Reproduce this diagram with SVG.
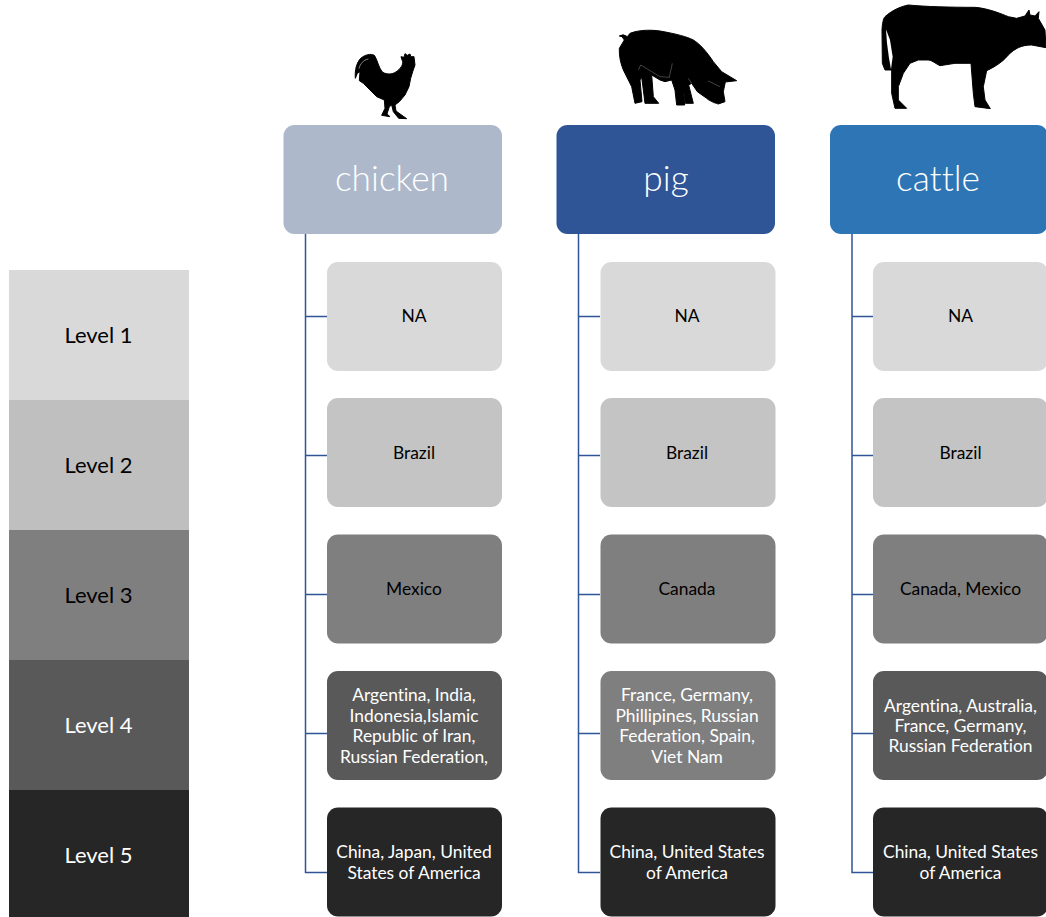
<svg xmlns="http://www.w3.org/2000/svg" width="1046" height="917" viewBox="0 0 1046 917">
<defs><filter id="soft" x="-5%" y="-5%" width="110%" height="110%"><feGaussianBlur stdDeviation="0.45"/></filter></defs>
<style>
text{font-family:"Lato","Carlito","Liberation Sans",sans-serif;text-anchor:middle;font-variant-ligatures:none}
.t{font-size:17.400px}
.l{font-size:22px}
.h{font-size:35.300px;fill:#fff;font-weight:300}
.w{fill:#fff}
.k{fill:#000}
.conn{fill:none;stroke:#2F5597;stroke-width:1.500}
.s{fill:#000;stroke:#000;stroke-width:3;stroke-linejoin:round}
.icon{filter:url(#soft)}
</style>
<rect width="1046" height="917" fill="#fff"/>
<g id="legend">
<g id="level1"><rect x="9" y="270" width="180" height="130" fill="#D9D9D9"/><text class="l k" x="98.500" y="343">Level 1</text></g>
<g id="level2"><rect x="9" y="400" width="180" height="130" fill="#BFBFBF"/><text class="l k" x="98.500" y="473">Level 2</text></g>
<g id="level3"><rect x="9" y="530" width="180" height="130" fill="#7F7F7F"/><text class="l k" x="98.500" y="603">Level 3</text></g>
<g id="level4"><rect x="9" y="660" width="180" height="130" fill="#595959"/><text class="l w" x="98.500" y="733">Level 4</text></g>
<g id="level5"><rect x="9" y="790" width="180" height="127" fill="#262626"/><text class="l w" x="98.500" y="863">Level 5</text></g>
</g>
<g id="connectors" class="conn">
<path d="M305.500 234V872.500H327M305.500 316.500H327M305.500 455.500H327M305.500 594.500H327M305.500 733.500H327"/>
<path d="M578.500 234V872.500H600M578.500 316.500H600M578.500 455.500H600M578.500 594.500H600M578.500 733.500H600"/>
<path d="M852 234V872.500H873M852 316.500H873M852 455.500H873M852 594.500H873M852 733.500H873"/>
</g>
<g id="icon-chicken" class="icon" transform="translate(340,40) scale(.3333)">
<path class="s" d="M46 115C44 90 50 68 62 55C75 44 92 40 103 46C113 60 115 82 127 96C140 105 160 104 173 92C185 82 191 70 187 62L183 50L192 52L195 41L202 46L210 42L213 50L222 50L225 75L218 95L212 115L207 140L195 165L178 185L165 195L168 213L190 229L200 236L176 235L160 215L155 195L148 200L141 222L150 230L125 226L135 205L133 180L110 170L90 150L70 130L58 122L60 95L52 100Z"/>
<path fill="none" stroke="#fff" stroke-width="1.500" d="M57 86C60 72 70 60 85 57"/>
</g>
<g id="icon-pig" class="icon" transform="translate(610,20) scale(.3333)">
<path class="s" d="M28 48Q40 40 52 50L60 40C90 28 130 30 150 33C200 42 230 50 250 60C270 72 290 95 310 125L335 155L380 182L346 186L340 215L345 245L325 252C310 248 295 240 290 235L262 215L245 190L236 195L250 250L226 250L220 205L224 255L200 255L195 210L185 180L165 185L150 180L125 165L130 230L146 250L105 250L100 210L95 172L90 180L96 245L75 250L65 200L40 150C32 130 27 110 28 85L43 60L36 50Z"/>
<path fill="none" stroke="#fff" stroke-width="1" opacity=".8" d="M85 150L92 135L125 155L150 170L178 172L187 130M295 183L330 200M245 190L235 175"/>
</g>
<g id="icon-cattle" class="icon" transform="translate(875,0) scale(.3333)">
<path class="s" d="M100 15C150 20 230 22 300 22C340 25 380 42 400 50L425 55L450 48L462 30L465 45L480 48L492 35L490 55L510 90L513 143L470 135C440 135 420 145 400 165C380 190 350 205 335 212L325 260L330 300L346 326L300 320L295 280L288 190L240 190L195 197C180 190 170 180 160 180L130 180L105 190L85 220L70 260L70 300L95 325L60 325L50 280L50 210L30 210L22 190L21 90C22 70 25 55 30 50C50 32 75 20 100 15Z"/>
<path fill="#fff" d="M33 88L45 120L53 170L48 208L42 175L36 130Z"/>
</g>
<g id="chicken"><rect x="283.500" y="125" width="218.500" height="109" rx="11" fill="#ADB9CA"/><text class="h" x="392" y="191">chicken</text></g>
<g id="pig"><rect x="556.500" y="125" width="218.500" height="109" rx="11" fill="#2F5597"/><text class="h" x="666" y="191">pig</text></g>
<g id="cattle"><rect x="830" y="125" width="218" height="109" rx="11" fill="#2E75B6"/><text class="h" x="938" y="191">cattle</text></g>
<g id="chicken-1"><rect x="327" y="262" width="175" height="109" rx="11" fill="#D9D9D9"/><text class="t k" x="414" y="322">NA</text></g>
<g id="chicken-2"><rect x="327" y="398" width="175" height="109" rx="11" fill="#C4C4C4"/><text class="t k" x="414" y="459">Brazil</text></g>
<g id="chicken-3"><rect x="327" y="534.500" width="175" height="109" rx="11" fill="#7F7F7F"/><text class="t k" x="414" y="595">Mexico</text></g>
<g id="chicken-4"><rect x="327" y="671" width="175" height="109" rx="11" fill="#595959"/><text class="t w"><tspan x="414" y="701">Argentina, India,</tspan><tspan x="414" y="722">Indonesia,Islamic</tspan><tspan x="414" y="742">Republic of Iran,</tspan><tspan x="414" y="763">Russian Federation,</tspan></text></g>
<g id="chicken-5"><rect x="327" y="807.500" width="175" height="109" rx="11" fill="#262626"/><text class="t w"><tspan x="414" y="858">China, Japan, United</tspan><tspan x="414" y="879">States of America</tspan></text></g>
<g id="pig-1"><rect x="600.500" y="262" width="175" height="109" rx="11" fill="#D9D9D9"/><text class="t k" x="687" y="322">NA</text></g>
<g id="pig-2"><rect x="600.500" y="398" width="175" height="109" rx="11" fill="#C4C4C4"/><text class="t k" x="687" y="459">Brazil</text></g>
<g id="pig-3"><rect x="600.500" y="534.500" width="175" height="109" rx="11" fill="#7F7F7F"/><text class="t k" x="687" y="595">Canada</text></g>
<g id="pig-4"><rect x="600.500" y="671" width="175" height="109" rx="11" fill="#7F7F7F"/><text class="t w"><tspan x="687" y="701">France, Germany,</tspan><tspan x="687" y="722">Phillipines, Russian</tspan><tspan x="687" y="742">Federation, Spain,</tspan><tspan x="687" y="763">Viet Nam</tspan></text></g>
<g id="pig-5"><rect x="600.500" y="807.500" width="175" height="109" rx="11" fill="#262626"/><text class="t w"><tspan x="687" y="858">China, United States</tspan><tspan x="687" y="879">of America</tspan></text></g>
<g id="cattle-1"><rect x="873" y="262" width="175" height="109" rx="11" fill="#D9D9D9"/><text class="t k" x="960.500" y="322">NA</text></g>
<g id="cattle-2"><rect x="873" y="398" width="175" height="109" rx="11" fill="#C4C4C4"/><text class="t k" x="960.500" y="459">Brazil</text></g>
<g id="cattle-3"><rect x="873" y="534.500" width="175" height="109" rx="11" fill="#7F7F7F"/><text class="t k" x="960.500" y="595">Canada, Mexico</text></g>
<g id="cattle-4"><rect x="873" y="671" width="175" height="109" rx="11" fill="#595959"/><text class="t w"><tspan x="960.500" y="712">Argentina, Australia,</tspan><tspan x="960.500" y="732">France, Germany,</tspan><tspan x="960.500" y="752">Russian Federation</tspan></text></g>
<g id="cattle-5"><rect x="873" y="807.500" width="175" height="109" rx="11" fill="#262626"/><text class="t w"><tspan x="960.500" y="858">China, United States</tspan><tspan x="960.500" y="879">of America</tspan></text></g>
</svg>
